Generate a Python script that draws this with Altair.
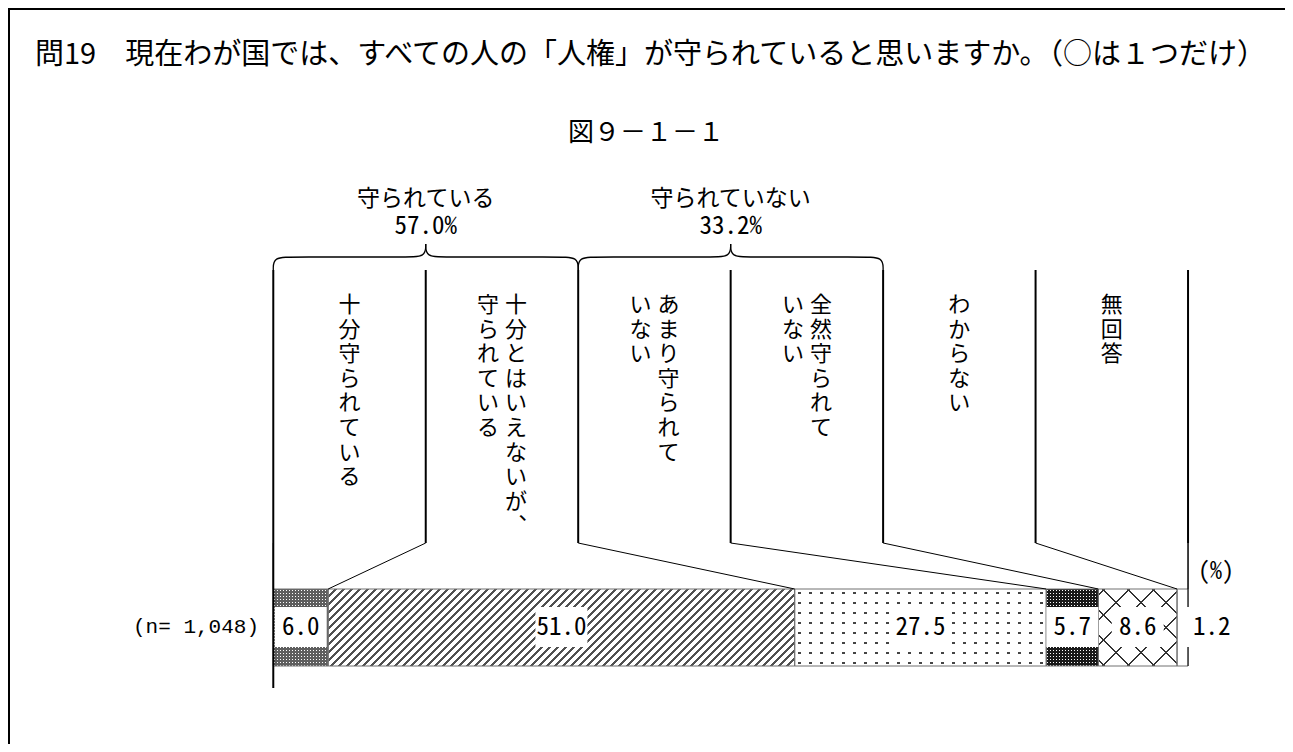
import altair as alt
import pandas as pd
import numpy as np

# ---------------- data ----------------
title_text = "問19　現在わが国では、すべての人の「人権」が守られていると思いますか。（○は１つだけ）"
subtitle_text = "図９－１－１"
categories = ["十分守られている", "十分とはいえないが、守られている", "あまり守られていない",
              "全然守られていない", "わからない", "無回答"]
values = [6.0, 51.0, 27.5, 5.7, 8.6, 1.2]
vertical_lines = [["十分守られている"], ["十分とはいえないが、", "守られている"],
                  ["あまり守られて", "いない"], ["全然守られて", "いない"],
                  ["わからない"], ["無回答"]]
group_labels = ["守られている", "守られていない"]
group_values = [57.0, 33.2]
group_members = [[0, 1], [2, 3]]
n_label = "(n= 1,048)"
unit_label = "(%)"

# ---------------- layout ----------------
W, H = 1277, 736
X_MIN, X_MAX = -29.0, 110.6
PXP = W / (X_MAX - X_MIN)
BAR_Y0, BAR_Y1 = 581, 658
BOX_Y0, BOX_Y1 = 599, 639
LABEL_Y = 619
DIV_Y0, DIV_Y1 = 262, 535
JP = "Noto Sans CJK JP"
MONO = "Noto Sans Mono CJK JP, Noto Sans CJK JP"

xs = alt.Scale(domain=[X_MIN, X_MAX], range=[0, W], nice=False, zero=False)
ys = alt.Scale(domain=[0, H], range=[0, H], nice=False, zero=False)

n = len(categories)
cum = np.concatenate([[0.0], np.cumsum(values)])
cum[-1] = 100.0
seg = pd.DataFrame({
    "idx": list(range(n)), "cat": categories, "value": values,
    "start": cum[:-1], "end": cum[1:],
})
seg["mid"] = (seg["start"] + seg["end"]) / 2
seg["label"] = [f"{v:.1f}" for v in values]
hw = 52 / PXP / 2
bx0, bx1, lx = [], [], []
for v, s, e, m in zip(seg["value"], seg["start"], seg["end"], seg["mid"]):
    if v < 3:
        bx0.append(e - 0.2); bx1.append(e + 5.0); lx.append(e + 2.6)
    else:
        h = min(hw, v / 2)
        bx0.append(m - h); bx1.append(m + h); lx.append(m)
seg["bx0"], seg["bx1"], seg["lx"] = bx0, bx1, lx

div = pd.DataFrame({"i": list(range(n + 1)),
                    "col_x": [i * 100 / n for i in range(n + 1)],
                    "bar_x": cum})

# ---------------- pattern helpers ----------------
def stripe_stops(length, period, width, line, bg, phase=0.0):
    intervals = []
    k = int(np.floor((-width - phase) / period))
    while True:
        c = phase + k * period
        a, b = c - width / 2, c + width / 2
        if a > length:
            break
        a2, b2 = max(a, 0) / length, min(b, length) / length
        if b2 > a2:
            intervals.append((a2, b2))
        k += 1
    stops, cur = [], 0.0
    for a, b in intervals:
        if a > cur:
            stops += [(cur, bg), (a, bg)]
        stops += [(a, line), (b, line)]
        cur = b
    if cur < 1:
        stops += [(cur, bg), (1.0, bg)]
    return [{"offset": round(o, 5), "color": c} for o, c in stops]


def grad(kind, w, h, period, width, line, bg, phase=0.0):
    if kind == "v":
        g = dict(x1=0, y1=0, x2=1, y2=0); L = w
    elif kind == "h":
        g = dict(x1=0, y1=0, x2=0, y2=1); L = h
    elif kind == "/":
        k = (w + h) / (w * w + h * h)
        g = dict(x1=0, y1=0, x2=k * w, y2=k * h); L = w + h
    else:
        k = (w + h) / (w * w + h * h)
        g = dict(x1=0, y1=1, x2=k * w, y2=1 - k * h); L = w + h
    return {"gradient": "linear", **g, "stops": stripe_stops(L, period, width, line, bg, phase)}


TR = "rgba(255,255,255,0)"
BH = BAR_Y1 - BAR_Y0


def seg_rect(i, fill):
    return alt.Chart(seg).transform_filter(alt.datum.idx == i).mark_rect(fill=fill).encode(
        x=alt.X("start:Q", scale=xs, axis=None), x2="end:Q",
        y=alt.value(BAR_Y0), y2=alt.value(BAR_Y1))


def pattern_layers(i):
    w = values[i] * PXP
    if i == 0:
        return [seg_rect(i, "white"),
                seg_rect(i, grad("v", w, BH, 3, 1.6, "#5e5e5e", TR)),
                seg_rect(i, grad("h", w, BH, 3, 1.6, "#5e5e5e", TR))]
    if i == 1:
        return [seg_rect(i, grad("/", w, BH, 8, 2.7, "#505050", "white"))]
    if i == 2:
        return [seg_rect(i, "#444444"),
                seg_rect(i, grad("v", w, BH, 11, 2.4, TR, "white", 5)),
                seg_rect(i, grad("h", w, BH, 10, 2.4, TR, "white", 4))]
    if i == 3:
        return [seg_rect(i, "white"),
                seg_rect(i, grad("v", w, BH, 3, 2.0, "#1a1a1a", TR)),
                seg_rect(i, grad("h", w, BH, 3, 2.0, "#1a1a1a", TR))]
    if i == 4:
        return [seg_rect(i, "white"),
                seg_rect(i, grad("/", w, BH, 25, 2.4, "#333333", TR, 6)),
                seg_rect(i, grad("\\", w, BH, 25, 2.4, "#333333", TR, 6))]
    return [seg_rect(i, "white")]


layers = []
for i in range(n):
    layers += pattern_layers(i)

outline = alt.Chart(seg).mark_rect(fillOpacity=0, stroke="#707070", strokeWidth=1).encode(
    x=alt.X("start:Q", scale=xs, axis=None), x2="end:Q",
    y=alt.value(BAR_Y0), y2=alt.value(BAR_Y1))

right_line = alt.Chart(div).transform_filter(alt.datum.i == n).mark_rule(
    color="black", strokeWidth=1).encode(
    x=alt.X("bar_x:Q", scale=xs, axis=None), y=alt.value(DIV_Y1), y2=alt.value(BAR_Y1))

boxes = alt.Chart(seg).mark_rect(fill="white").encode(
    x=alt.X("bx0:Q", scale=xs, axis=None), x2="bx1:Q",
    y=alt.value(BOX_Y0), y2=alt.value(BOX_Y1))

labels = alt.Chart(seg).mark_text(font=MONO, fontSize=25, color="black", baseline="middle").encode(
    x=alt.X("lx:Q", scale=xs, axis=None), y=alt.value(LABEL_Y), text="label:N")

leaders = alt.Chart(div).mark_rule(color="black", strokeWidth=1).encode(
    x=alt.X("col_x:Q", scale=xs, axis=None), x2="bar_x:Q",
    y=alt.value(DIV_Y1), y2=alt.value(BAR_Y0))

dividers = alt.Chart(div).mark_rule(color="black", strokeWidth=2).encode(
    x=alt.X("col_x:Q", scale=xs, axis=None),
    y=alt.value(DIV_Y0), y2=alt.value(DIV_Y1))

axis0 = alt.Chart(div).transform_filter(alt.datum.i == 0).mark_rule(
    color="black", strokeWidth=2).encode(
    x=alt.X("bar_x:Q", scale=xs, axis=None), y=alt.value(DIV_Y1), y2=alt.value(680))

# braces
Y_END, Y_MID, Y_TIP = 262, 249, 236
brace_rows = []
for g, mem in enumerate(group_members):
    a = mem[0] * 100 / n
    b = (mem[-1] + 1) * 100 / n
    m = (a + b) / 2
    d = 2.2
    left = [(a, Y_END), (a, Y_MID), (a + d, Y_MID), (m - d, Y_MID), (m, Y_MID), (m, Y_TIP)]
    right = [(b, Y_END), (b, Y_MID), (b - d, Y_MID), (m + d, Y_MID), (m, Y_MID), (m, Y_TIP)]
    for hname, pts in (("L", left), ("R", right)):
        for o, (px, py) in enumerate(pts):
            brace_rows.append({"key": f"{g}{hname}", "o": o, "x": px, "y": py})
brace_df = pd.DataFrame(brace_rows)
braces = alt.Chart(brace_df).mark_line(color="black", strokeWidth=1.3, interpolate="basis").encode(
    x=alt.X("x:Q", scale=xs, axis=None), y=alt.Y("y:Q", scale=ys, axis=None),
    detail="key:N", order="o:Q")

grp = pd.DataFrame({
    "name": group_labels,
    "pct": [f"{v:.1f}%" for v in group_values],
    "x": [((m[0] * 100 / n) + ((m[-1] + 1) * 100 / n)) / 2 for m in group_members],
})
grp_name = alt.Chart(grp).mark_text(font=JP, fontSize=23, baseline="middle").encode(
    x=alt.X("x:Q", scale=xs, axis=None), y=alt.value(191), text="name:N")
grp_pct = alt.Chart(grp).mark_text(font=MONO, fontSize=25, baseline="middle").encode(
    x=alt.X("x:Q", scale=xs, axis=None), y=alt.value(218), text="pct:N")

# vertical column labels: one multi-line text per column line (one character per row)
LINE_GAP = 28 / PXP
col_rows = []
for i, lines in enumerate(vertical_lines):
    center = (i + 0.5) * 100 / n
    nl = len(lines)
    for j, line in enumerate(lines):
        xx = center + ((nl - 1) / 2 - j) * LINE_GAP
        col_rows.append({"chars": ["︑" if ch == "、" else ch for ch in line], "x": xx, "y": 287})
cols = pd.DataFrame(col_rows)
vtext = alt.Chart(cols).mark_text(font=JP, fontSize=22, baseline="top", lineHeight=24.6).encode(
    x=alt.X("x:Q", scale=xs, axis=None), y=alt.Y("y:Q", scale=ys, axis=None), text="chars:N")

one = pd.DataFrame({"t": [title_text], "s": [subtitle_text], "n": [n_label], "u": [unit_label]})
title = alt.Chart(one).mark_text(font=JP, fontSize=29, align="left", baseline="middle").encode(
    x=alt.value(27), y=alt.value(47), text="t:N")
subtitle = alt.Chart(one).mark_text(font=JP, fontSize=26, baseline="middle").encode(
    x=alt.value(638), y=alt.value(125), text="s:N")
ntext = alt.Chart(one).mark_text(font="Liberation Mono", fontSize=21, baseline="middle").encode(
    x=alt.value(188), y=alt.value(LABEL_Y), text="n:N")
utext = alt.Chart(one).mark_text(font=MONO, fontSize=24, baseline="middle").encode(
    x=alt.value(1208), y=alt.value(564), text="u:N")

frame_l = alt.Chart(one).mark_rule(color="black", strokeWidth=2).encode(
    x=alt.value(1), y=alt.value(0), y2=alt.value(H))
frame_t = alt.Chart(one).mark_rule(color="black", strokeWidth=2).encode(
    y=alt.value(1), x=alt.value(0), x2=alt.value(W))

chart = alt.layer(
    *layers, outline, right_line, boxes, labels, leaders, dividers, axis0,
    braces, grp_name, grp_pct, vtext, title, subtitle, ntext, utext, frame_l, frame_t
).properties(
    width=W, height=H, padding=0, autosize=alt.AutoSizeParams(type="none")
).configure_view(stroke=None).configure(background="white")

chart.save("out.html", embed_options={"renderer": "svg", "actions": False})
